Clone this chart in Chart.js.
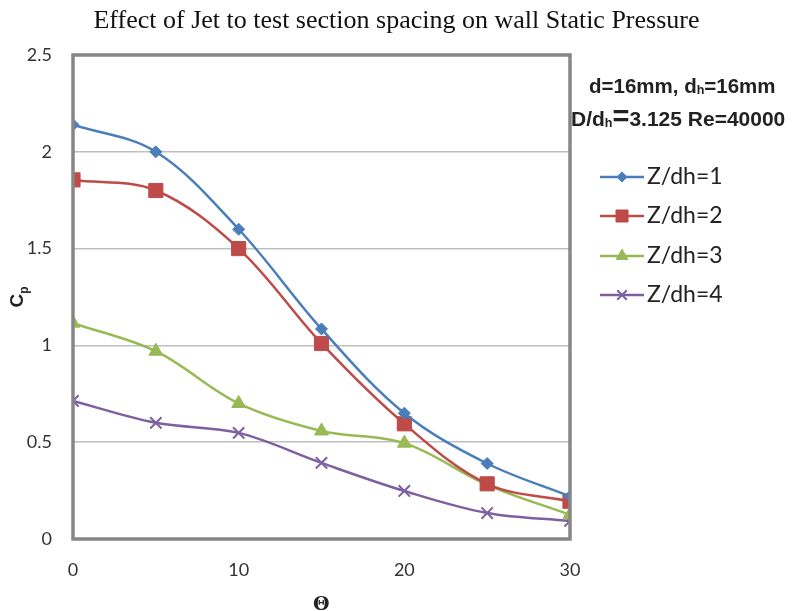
<!DOCTYPE html>
<html>
<head>
<meta charset="utf-8">
<script src="https://cdn.jsdelivr.net/npm/chart.js@4/dist/chart.umd.min.js"></script>
<style>
  html,body{margin:0;padding:0;background:#fff;}
  #wrap{position:relative;width:793px;height:611px;}
  canvas{position:absolute;left:0;top:0;}
  .ov{position:absolute;white-space:nowrap;color:#111;}
  .hdr{font-family:"Liberation Sans",Arial,sans-serif;font-weight:bold;font-size:20.5px;color:#222;}
  .hdr sub{font-size:12.5px;vertical-align:baseline;position:relative;top:1px;}
</style>
</head>
<body>
<div id="wrap">
  <canvas id="c" width="793" height="611"></canvas>
  <div class="ov" style="left:0;top:5px;width:793px;text-align:center;font-family:'Liberation Serif','Times New Roman',serif;font-size:26px;color:#111;">Effect of Jet to test section spacing on wall Static Pressure</div>
  <div class="ov hdr" style="left:589px;top:74px;">d=16mm, d<sub>h</sub>=16mm</div>
  <div class="ov hdr" style="left:571px;top:107px;font-size:21px;">D/d<sub>h</sub><span style="font-size:29px;line-height:10px;">=</span>3.125 Re=40000</div>
  <div class="ov" style="left:2px;top:282px;width:30px;height:30px;transform:rotate(-90deg);font-family:'Liberation Sans',Arial,sans-serif;font-weight:bold;font-size:19px;text-align:center;line-height:30px;color:#222;">C<sub style="font-size:12px;">p</sub></div>
  <div class="ov" style="left:313px;top:592px;font-family:'DejaVu Serif',serif;font-weight:bold;font-size:19px;color:#222;">Θ</div>
</div>
<script>
const theta = [0, 5, 10, 15, 20, 25, 30];
const seriesNames = ['Z/dh=1', 'Z/dh=2', 'Z/dh=3', 'Z/dh=4'];
const cpZ1 = [2.14, 2.00, 1.60, 1.085, 0.65, 0.39, 0.22];
const cpZ2 = [1.855, 1.80, 1.50, 1.01, 0.595, 0.285, 0.195];
const cpZ3 = [1.115, 0.97, 0.70, 0.558, 0.495, 0.28, 0.125];
const cpZ4 = [0.713, 0.60, 0.548, 0.393, 0.248, 0.134, 0.093];
const yTicks = [0, 0.5, 1, 1.5, 2, 2.5];
const xTicks = [0, 10, 20, 30];

const styles = [
  {color:'#4a7ebb', pointStyle:'rectRot', radius:6, bw:1},
  {color:'#be4b48', pointStyle:'rect', radius:10, bw:1},
  {color:'#98b954', pointStyle:'triangle', radius:8, bw:1},
  {color:'#7d60a0', pointStyle:'crossRot', radius:8, bw:2}
];
const allData = [cpZ1, cpZ2, cpZ3, cpZ4];

const datasets = allData.map((vals, i) => ({
  label: seriesNames[i],
  data: theta.map((t, j) => ({x: t, y: vals[j]})),
  borderColor: styles[i].color,
  backgroundColor: styles[i].color,
  borderWidth: 2.5,
  tension: 0.35,
  pointStyle: styles[i].pointStyle,
  pointRadius: styles[i].radius,
  pointBorderWidth: styles[i].bw,
  pointBackgroundColor: styles[i].color,
  pointBorderColor: styles[i].color,
  fill: false
}));

const frame = {
  id: 'frame',
  afterDatasetsDraw(chart) {
    const {ctx, chartArea: a} = chart;
    ctx.save();
    ctx.strokeStyle = '#868686';
    ctx.lineWidth = 3.5;
    ctx.strokeRect(a.left, a.top, a.right - a.left, a.bottom - a.top);
    ctx.restore();
  }
};

const customLegend = {
  id: 'customLegend',
  afterDraw(chart) {
    const ctx = chart.ctx;
    const ys = [177, 216, 256, 295];
    ctx.save();
    chart.data.datasets.forEach((ds, i) => {
      const y = ys[i];
      ctx.strokeStyle = ds.borderColor;
      ctx.lineWidth = 2.5;
      ctx.beginPath();
      ctx.moveTo(600, y); ctx.lineTo(644, y);
      ctx.stroke();
      ctx.fillStyle = ds.borderColor;
      ctx.strokeStyle = ds.borderColor;
      ctx.lineWidth = ds.pointBorderWidth;
      Chart.helpers.drawPoint(ctx, {pointStyle: ds.pointStyle, radius: ds.pointRadius * 0.85, rotation: 0, borderWidth: ds.pointBorderWidth}, 622, y);
      ctx.fillStyle = '#222';
      ctx.font = '23px Lato, "Open Sans", sans-serif';
      ctx.textBaseline = 'middle';
      ctx.textAlign = 'left';
      ctx.fillText(ds.label, 647, y);
    });
    ctx.restore();
  }
};

new Chart(document.getElementById('c'), {
  type: 'line',
  data: {datasets},
  options: {
    responsive: false,
    animation: false,
    layout: {padding: {left: 0, right: 223, top: 55, bottom: 0}},
    plugins: {
      legend: {display: false},
      tooltip: {enabled: false},
      title: {display: false}
    },
    scales: {
      x: {
        type: 'linear', min: 0, max: 30,
        afterBuildTicks(s) { s.ticks = xTicks.map(v => ({value: v})); },
        afterFit(s) { s.height = 72; },
        grid: {display: false, drawTicks: false},
        border: {display: false},
        ticks: {padding: 20, color: '#333', font: {family: 'Lato, "Open Sans", sans-serif', size: 18}, callback: v => String(v)}
      },
      y: {
        type: 'linear', min: 0, max: 2.5,
        afterBuildTicks(s) { s.ticks = yTicks.map(v => ({value: v})); },
        afterFit(s) { s.width = 73; },
        grid: {color: '#bfbfbf', lineWidth: 1.5, drawTicks: false},
        border: {display: false},
        ticks: {padding: 21, color: '#333', font: {family: 'Lato, "Open Sans", sans-serif', size: 18}, callback: v => String(v)}
      }
    }
  },
  plugins: [frame, customLegend]
});
</script>
</body>
</html>
